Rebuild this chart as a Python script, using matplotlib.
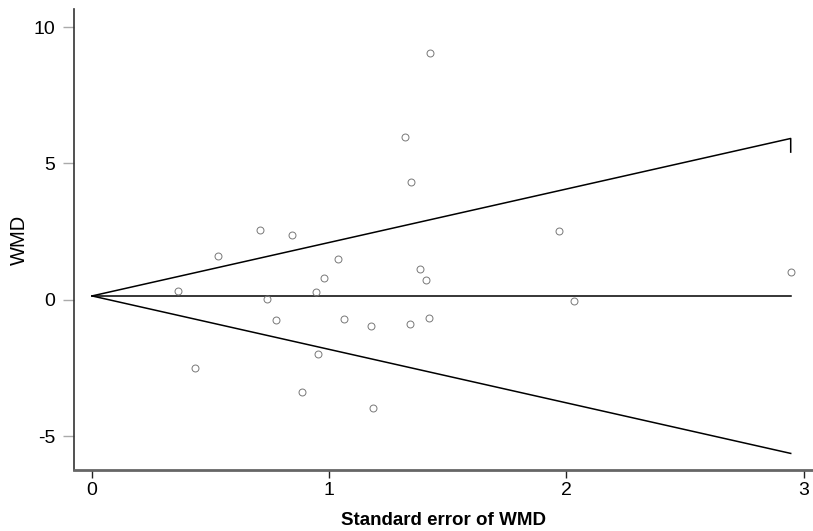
import numpy as np
import matplotlib.pyplot as plt

# funnel plot: WMD vs its standard error
se = [0.362, 0.434, 0.531, 0.708, 0.737, 0.775, 0.843, 0.885, 0.944, 0.952,
      0.978, 1.037, 1.062, 1.176, 1.184, 1.319, 1.340, 1.344, 1.382, 1.407,
      1.420, 1.424, 1.968, 2.031, 2.946]
wmd = [0.32, -2.50, 1.60, 2.56, 0.03, -0.74, 2.37, -3.37, 0.28, -1.99,
       0.80, 1.51, -0.70, -0.96, -3.96, 5.96, -0.89, 4.30, 1.13, 0.72,
       -0.67, 9.04, 2.51, -0.05, 1.02]
pooled = 0.14
se_max = 2.946

plt.rcParams['font.family'] = ['Liberation Sans', 'DejaVu Sans']

fig = plt.figure(figsize=(8.13, 5.31), dpi=100)
ax = fig.add_axes([0.0916, 0.115, 0.9084, 0.868])

s = np.array([0, se_max])
ax.plot(s, [pooled, pooled], color="black", lw=1.1)
ax.plot([0, se_max, se_max], [pooled, pooled + 1.96 * se_max, pooled + 1.96 * se_max - 0.5],
        color="black", lw=1.1)
ax.plot(s, pooled - 1.96 * s, color="black", lw=1.1)
ax.plot(se, wmd, "o", ms=5, mfc="none", mec="#777777", mew=0.7)

ax.set_xlim(-0.074, 3.04)
ax.set_ylim(-6.24, 10.66)
ax.set_xticks([0, 1, 2, 3])
ax.set_yticks([-5, 0, 5, 10])
ax.set_xticklabels(["0", "1", "2", "3"])
ax.set_yticklabels(["-5", "0", "5", "10"])

for side in ["top", "right"]:
    ax.spines[side].set_visible(False)
ax.spines["left"].set_color("#333333")
ax.spines["left"].set_linewidth(1.2)
ax.spines["bottom"].set_color("#666666")
ax.spines["bottom"].set_linewidth(2)

ax.tick_params(axis="x", length=6, width=1, color="#222222", labelsize=14, pad=3)
ax.tick_params(axis="y", length=8, width=1, color="#aaaaaa", labelsize=14, pad=6)

ax.set_xlabel("Standard error of WMD", fontsize=13.5, fontweight="bold", labelpad=9)
ax.set_ylabel("WMD", fontsize=14.5, labelpad=3)

fig.savefig("out.png", dpi=100)
